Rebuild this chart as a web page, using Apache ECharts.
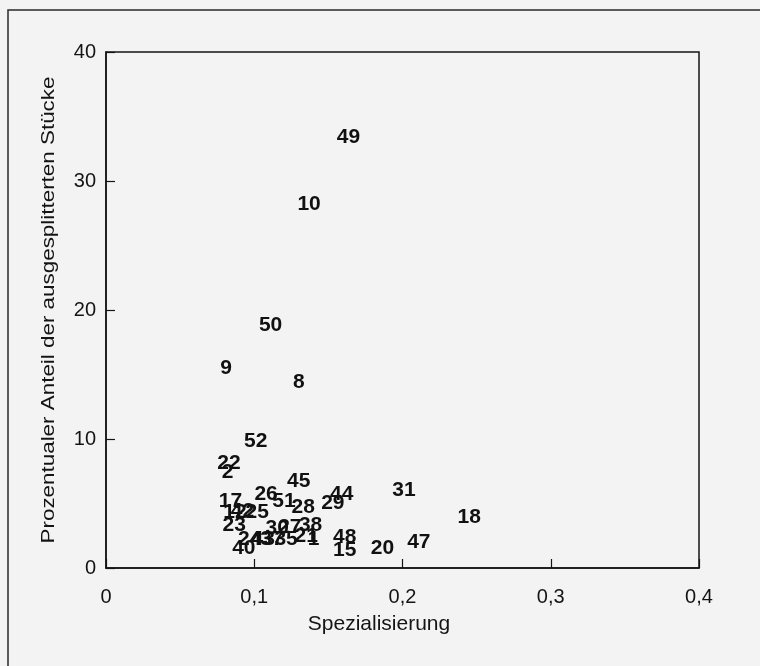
<!DOCTYPE html>
<html>
<head>
<meta charset="utf-8">
<script src="https://cdn.jsdelivr.net/npm/echarts@6/dist/echarts.min.js"></script>
<style>
  html, body { margin: 0; padding: 0; background: #f3f3f3; }
  #chart { width: 760px; height: 666px; }
</style>
</head>
<body>
<div id="chart"></div>
<script>
// Site numbers and their measured values
const siteIds = [49, 10, 50, 9, 8, 52, 22, 2, 45, 31, 44, 29, 26, 51, 28, 17, 18,
                 12, 42, 25, 23, 38, 1, 21, 48, 15, 20, 47, 40, 24, 43, 30, 27, 37, 35];
// Specialisation index
const specialisation = [0.1635, 0.137, 0.111, 0.081, 0.130, 0.101, 0.083, 0.082, 0.130, 0.201,
                        0.159, 0.153, 0.108, 0.120, 0.133, 0.084, 0.245,
                        0.087, 0.092, 0.102, 0.0865, 0.138, 0.140, 0.135, 0.161, 0.161, 0.1865, 0.211,
                        0.093, 0.097, 0.106, 0.1155, 0.124, 0.112, 0.1215];
// Share of split pieces in percent
const splitShare = [33.4, 28.2, 18.8, 15.5, 14.4, 9.8, 8.1, 7.4, 6.7, 6.0,
                    5.7, 5.0, 5.7, 5.2, 4.7, 5.2, 3.9,
                    4.3, 4.4, 4.3, 3.3, 3.3, 2.2, 2.5, 2.4, 1.4, 1.5, 2.0,
                    1.5, 2.2, 2.2, 3.1, 3.2, 2.2, 2.2];

const xTicks = [0, 0.1, 0.2, 0.3, 0.4];
const yTicks = [0, 10, 20, 30, 40];

const points = siteIds.map((id, i) => [specialisation[i], splitShare[i], id]);

const chart = echarts.init(document.getElementById('chart'));
const ink = '#141414';
const font = '"Liberation Sans", Arial, sans-serif';

chart.setOption({
  backgroundColor: '#f3f3f3',
  animation: false,
  grid: { left: 106, top: 52, right: 61, bottom: 98, show: true, borderColor: ink, borderWidth: 1.5, backgroundColor: 'transparent' },
  xAxis: {
    type: 'value',
    min: xTicks[0], max: xTicks[xTicks.length - 1], interval: 0.1,
    axisLine: { show: true, lineStyle: { color: ink, width: 1.5 } },
    axisTick: { show: true, inside: true, length: 9, lineStyle: { color: ink, width: 1.2 } },
    splitLine: { show: false },
    axisLabel: {
      color: ink, fontFamily: font, fontSize: 20, margin: 19,
      formatter: v => v === 0 ? '0' : v.toFixed(1).replace('.', ',')
    }
  },
  yAxis: {
    type: 'value',
    min: yTicks[0], max: yTicks[yTicks.length - 1], interval: 10,
    axisLine: { show: true, lineStyle: { color: ink, width: 1.5 } },
    axisTick: { show: true, inside: true, length: 9, lineStyle: { color: ink, width: 1.2 } },
    splitLine: { show: false },
    axisLabel: { color: ink, fontFamily: font, fontSize: 20, margin: 10 }
  },
  graphic: [
    {
      type: 'rect', silent: true,
      shape: { x: 8, y: 10, width: 820, height: 720 },
      style: { fill: 'none', stroke: '#2a2a2a', lineWidth: 1.5 }
    },
    {
      type: 'text', silent: true,
      x: 49, y: 310, rotation: Math.PI / 2, scaleX: 1.28,
      style: {
        text: 'Prozentualer Anteil der ausgesplitterten Stücke',
        fill: ink, font: '17.5px ' + font, align: 'center', verticalAlign: 'middle'
      }
    },
    {
      type: 'text', silent: true,
      x: 379, y: 624,
      style: {
        text: 'Spezialisierung',
        fill: ink, font: '21px ' + font, align: 'center', verticalAlign: 'middle'
      }
    }
  ],
  series: [{
    type: 'scatter',
    symbolSize: 0,
    itemStyle: { opacity: 1, color: ink },
    data: points,
    label: {
      show: true, position: 'inside', opacity: 1,
      formatter: p => String(p.value[2]),
      color: '#111111', textBorderWidth: 0, fontFamily: font, fontWeight: 'bold', fontSize: 21
    },
    emphasis: { disabled: true },
    labelLayout: { hideOverlap: false }
  }]
});
</script>
</body>
</html>
